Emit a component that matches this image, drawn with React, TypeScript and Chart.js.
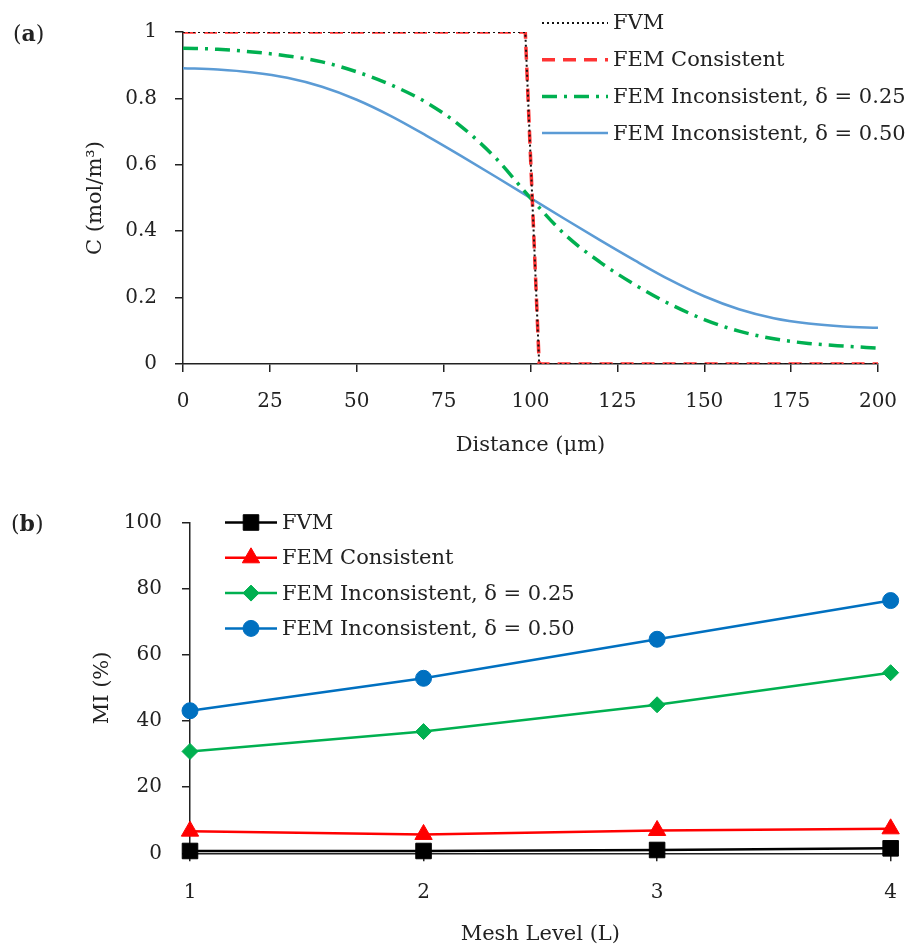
import React, { useEffect, useRef } from 'react';
import { Chart, registerables } from 'chart.js';
import { drawPoint } from 'chart.js/helpers';

Chart.register(...registerables);

const FONT = "'DejaVu Serif', serif";
const TEXT = '#222';

// ---------- Chart (a): concentration profiles ----------
const distance = [0, 10, 20, 30, 40, 50, 60, 70, 80, 90, 100, 110, 120, 130, 140, 150, 160, 170, 180, 190, 200];
const femInc025 = [0.951, 0.948, 0.94, 0.928, 0.91, 0.88, 0.84, 0.788, 0.716, 0.62, 0.5, 0.389, 0.307, 0.239, 0.181, 0.134, 0.099, 0.076, 0.062, 0.054, 0.048];
const femInc050 = [0.891, 0.887, 0.878, 0.862, 0.835, 0.796, 0.746, 0.688, 0.627, 0.564, 0.5, 0.436, 0.373, 0.312, 0.254, 0.204, 0.165, 0.138, 0.122, 0.113, 0.109];
const stepDistance = [0, 98.5, 102.5, 200];
const fvmConc = [1, 1, 0, 0];
const femConsConc = [1, 1, 0, 0];
const concLabels = ['FVM', 'FEM Consistent', 'FEM Inconsistent, δ = 0.25', 'FEM Inconsistent, δ = 0.50'];

// ---------- Chart (b): mixing index vs mesh level ----------
const meshLevels = [1, 2, 3, 4];
const miFVM = [0.7, 0.7, 1.0, 1.5];
const miFEMCons = [6.7, 5.7, 6.9, 7.4];
const miFEM025 = [30.8, 36.8, 44.9, 54.6];
const miFEM050 = [43.1, 52.9, 64.7, 76.4];
const miLabels = ['FVM', 'FEM Consistent', 'FEM Inconsistent, δ = 0.25', 'FEM Inconsistent, δ = 0.50'];

const pts = (xs: number[], ys: number[]) => xs.map((x, i) => ({ x, y: ys[i] }));

function legendPlugin(labels: string[], cfg: { x0: number; x1: number; tx: number; y0: number; dy: number; markers: boolean }) {
  return {
    id: 'customLegend',
    afterDraw(chart: any) {
      const ctx = chart.ctx;
      ctx.save();
      chart.data.datasets.forEach((ds: any, i: number) => {
        const y = cfg.y0 + i * cfg.dy;
        ctx.strokeStyle = ds.borderColor;
        ctx.lineWidth = ds.borderWidth;
        ctx.setLineDash(ds.borderDash || []);
        ctx.lineCap = 'butt';
        ctx.beginPath();
        ctx.moveTo(cfg.x0, y);
        ctx.lineTo(cfg.x1, y);
        ctx.stroke();
        ctx.setLineDash([]);
        if (cfg.markers) {
          ctx.fillStyle = ds.pointBackgroundColor;
          ctx.strokeStyle = ds.pointBorderColor;
          ctx.lineWidth = 1;
          drawPoint(ctx, { pointStyle: ds.pointStyle, radius: ds.pointRadius, rotation: 0, borderWidth: 1 } as any, (cfg.x0 + cfg.x1) / 2, y);
        }
        ctx.fillStyle = TEXT;
        ctx.font = `21px ${FONT}`;
        ctx.textAlign = 'left';
        ctx.textBaseline = 'middle';
        ctx.fillText(labels[i], cfg.tx, y + 1);
      });
      ctx.restore();
    },
  };
}

function axisCommon() {
  return {
    grid: { drawOnChartArea: false, drawTicks: true, tickLength: 8, color: TEXT, lineWidth: 1.5 },
    border: { display: true, color: TEXT, width: 1.5 },
  };
}

const fmtTick = (v: any) => String(Number(Number(v).toFixed(2)));

function buildConcConfig(): any {
  return {
    type: 'line',
    data: {
      datasets: [
        { label: concLabels[0], data: pts(stepDistance, fvmConc), borderColor: '#111', borderWidth: 2, borderDash: [2, 3], pointRadius: 0, tension: 0, fill: false },
        { label: concLabels[1], data: pts(stepDistance, femConsConc), borderColor: '#FF3333', borderWidth: 3.5, borderDash: [13, 8], pointRadius: 0, tension: 0, fill: false },
        { label: concLabels[2], data: pts(distance, femInc025), borderColor: '#00B050', borderWidth: 3.5, borderDash: [15, 7, 3, 7], pointRadius: 0, cubicInterpolationMode: 'monotone', fill: false },
        { label: concLabels[3], data: pts(distance, femInc050), borderColor: '#5B9BD5', borderWidth: 2.5, pointRadius: 0, cubicInterpolationMode: 'monotone', fill: false },
      ],
    },
    options: {
      animation: false,
      responsive: false,
      maintainAspectRatio: false,
      devicePixelRatio: 1,
      layout: { padding: { top: 32, right: 38, left: 0, bottom: 0 } },
      plugins: { legend: { display: false }, tooltip: { enabled: false } },
      scales: {
        x: {
          type: 'linear', min: 0, max: 200,
          ...axisCommon(),
          ticks: { stepSize: 25, font: { family: FONT, size: 20, lineHeight: 1.2 }, color: TEXT, padding: 18, maxRotation: 0 },
          title: { display: true, text: 'Distance (μm)', font: { family: FONT, size: 21, lineHeight: 1.2 }, color: TEXT, padding: { top: 0, bottom: 12 } },
          afterFit: (s: any) => { s.height = 106; },
        },
        y: {
          type: 'linear', min: 0, max: 1,
          ...axisCommon(),
          ticks: { stepSize: 0.2, font: { family: FONT, size: 20, lineHeight: 1.2 }, color: TEXT, padding: 18, callback: fmtTick },
          title: { display: true, text: 'C (mol/m³)', font: { family: FONT, size: 21, lineHeight: 1.2 }, color: TEXT, padding: { top: 83, bottom: 0 } },
          afterFit: (s: any) => { s.width = 183; },
        },
      },
    },
    plugins: [legendPlugin(concLabels, { x0: 542, x1: 608, tx: 613, y0: 23, dy: 36.7, markers: false })],
  };
}

function buildMIConfig(): any {
  const mk = (label: string, ys: number[], color: string, style: string, r: number) => ({
    label, data: pts(meshLevels, ys), borderColor: color, backgroundColor: color, borderWidth: 2.5,
    pointStyle: style, pointRadius: r, pointHoverRadius: r, pointBackgroundColor: color, pointBorderColor: color, pointBorderWidth: 1,
    tension: 0, fill: false, clip: false,
  });
  return {
    type: 'line',
    data: {
      datasets: [
        mk(miLabels[0], miFVM, '#000000', 'rect', 11),
        mk(miLabels[1], miFEMCons, '#FF0000', 'triangle', 10),
        mk(miLabels[2], miFEM025, '#00B050', 'rectRot', 8),
        mk(miLabels[3], miFEM050, '#0070C0', 'circle', 8),
      ],
    },
    options: {
      animation: false,
      responsive: false,
      maintainAspectRatio: false,
      devicePixelRatio: 1,
      layout: { padding: { top: 52.5, right: 24, left: 0, bottom: 0 } },
      plugins: { legend: { display: false }, tooltip: { enabled: false } },
      scales: {
        x: {
          type: 'linear', min: 1, max: 4,
          ...axisCommon(),
          ticks: { stepSize: 1, font: { family: FONT, size: 20, lineHeight: 1.2 }, color: TEXT, padding: 19, maxRotation: 0 },
          title: { display: true, text: 'Mesh Level (L)', font: { family: FONT, size: 21, lineHeight: 1.2 }, color: TEXT, padding: { top: 0, bottom: 3 } },
          afterFit: (s: any) => { s.height = 96.7; },
        },
        y: {
          type: 'linear', min: 0, max: 100,
          ...axisCommon(),
          ticks: { stepSize: 20, font: { family: FONT, size: 20, lineHeight: 1.2 }, color: TEXT, padding: 20 },
          title: { display: true, text: 'MI (%)', font: { family: FONT, size: 21, lineHeight: 1.2 }, color: TEXT, padding: { top: 90, bottom: 0 } },
          afterFit: (s: any) => { s.width = 190; },
        },
      },
    },
    plugins: [legendPlugin(miLabels, { x0: 225, x1: 277, tx: 282, y0: 52.5, dy: 35.3, markers: true })],
  };
}

function ChartCanvas({ build, width, height, top }: { build: () => any; width: number; height: number; top: number }) {
  const ref = useRef<HTMLCanvasElement | null>(null);
  useEffect(() => {
    if (!ref.current) return;
    const chart = new Chart(ref.current, build());
    return () => chart.destroy();
  }, [build]);
  return <canvas ref={ref} width={width} height={height} style={{ position: 'absolute', left: 0, top, width, height }} />;
}

const panelLabel: React.CSSProperties = { position: 'absolute', fontFamily: FONT, fontSize: 22, lineHeight: '26px', color: TEXT };

export default function App() {
  return (
    <div style={{ position: 'fixed', left: 0, top: 0, width: 916, height: 950, background: '#fff' }}>
      <ChartCanvas build={buildConcConfig} width={916} height={470} top={0} />
      <ChartCanvas build={buildMIConfig} width={916} height={480} top={470} />
      <span style={{ ...panelLabel, left: 13, top: 20 }}>(<b>a</b>)</span>
      <span style={{ ...panelLabel, left: 11, top: 510 }}>(<b>b</b>)</span>
    </div>
  );
}
